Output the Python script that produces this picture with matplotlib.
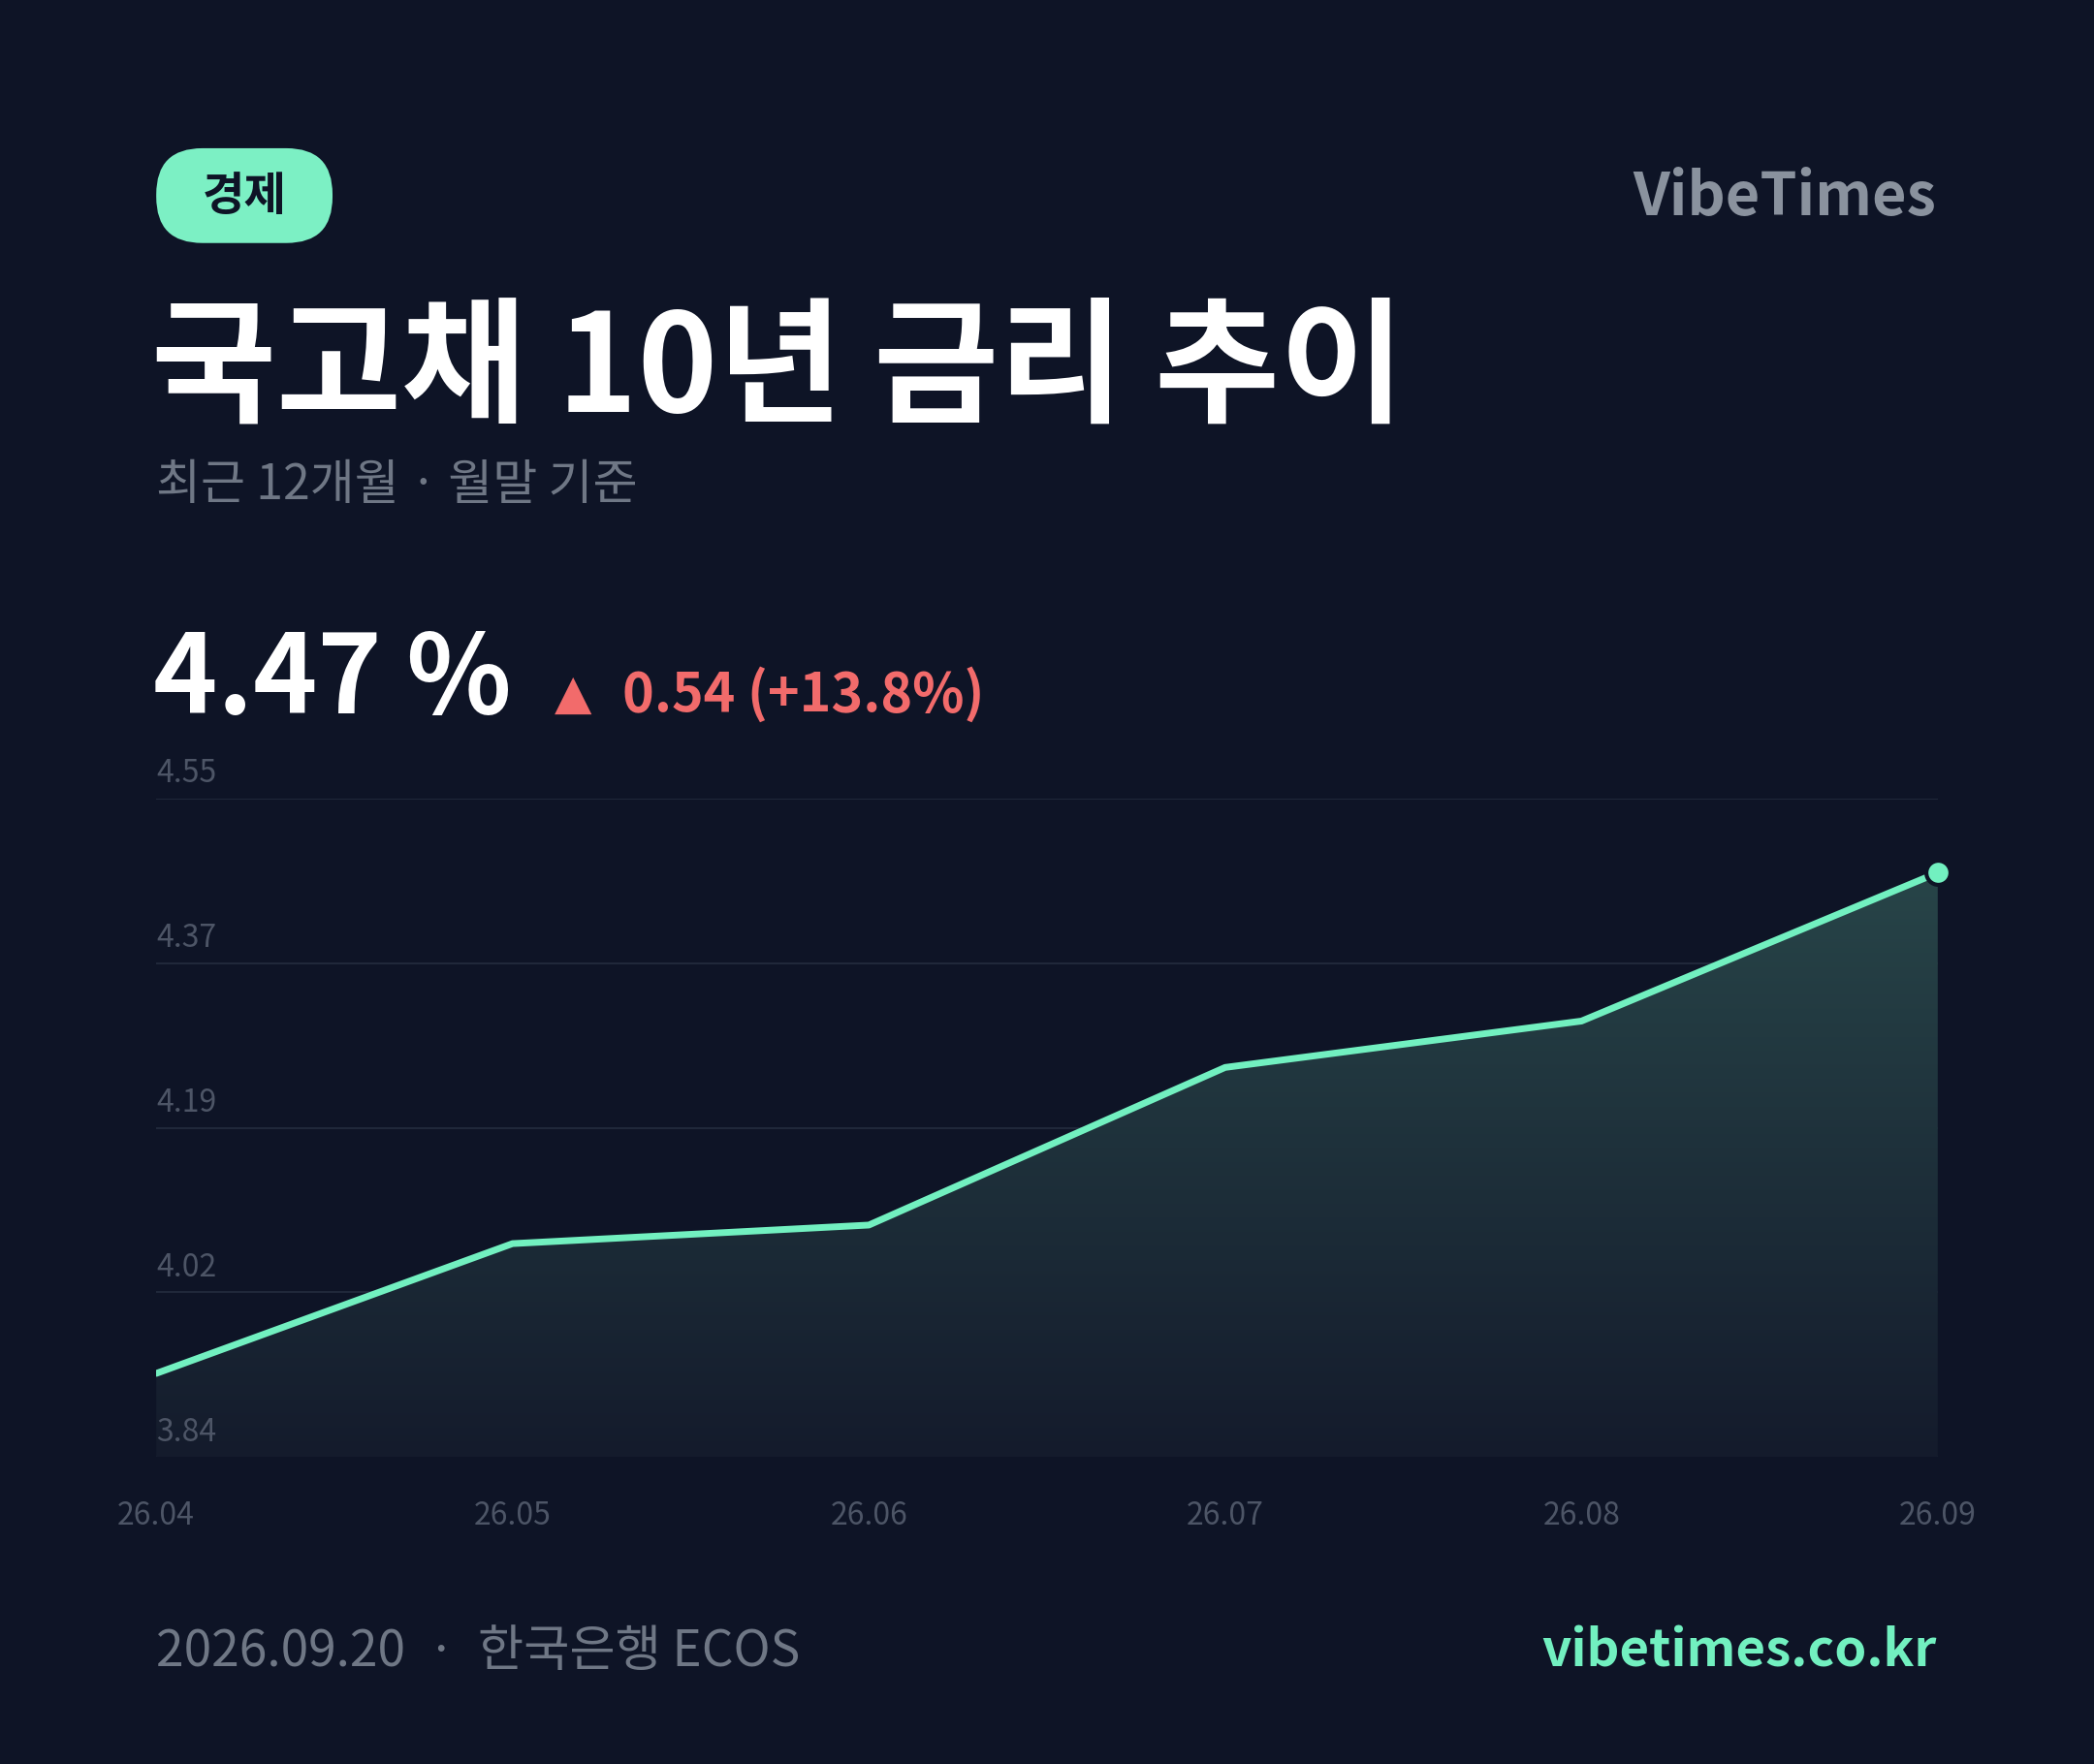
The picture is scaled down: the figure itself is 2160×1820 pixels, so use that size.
import numpy as np
import matplotlib.pyplot as plt
from matplotlib.patches import FancyBboxPatch, Polygon

plt.rcParams['font.family'] = ['Noto Sans CJK KR', 'DejaVu Sans']

months = ['26.04', '26.05', '26.06', '26.07', '26.08', '26.09']
rates = [3.93, 4.07, 4.09, 4.26, 4.31, 4.47]
ytick_vals = np.linspace(3.84, 4.55, 5)
ytick_labels = ['3.84', '4.02', '4.19', '4.37', '4.55']

BG = '#0e1426'
MINT = '#72f0c0'
W, H = 1568, 1321

fig = plt.figure(figsize=(21.6, 18.2), dpi=100, facecolor=BG)

def fx(x):
    return x / W

def fy(y):
    return 1 - y / H

# badge
badge = FancyBboxPatch((fx(117), fy(182)), fx(249) - fx(117), fy(111) - fy(182),
                       boxstyle='round,pad=0,rounding_size=0.022', transform=fig.transFigure,
                       facecolor='#7cf0c4', edgecolor='none', mutation_aspect=W / H)
fig.patches.append(badge)
fig.text(fx(183), fy(147), '경제', ha='center', va='center', fontsize=34,
         fontweight='bold', color='#0e1426')
fig.text(fx(1450), fy(148), 'VibeTimes', ha='right', va='center', fontsize=44,
         fontweight='bold', color='#8a929e')

fig.text(fx(113), fy(278), '국고채 10년 금리 추이', ha='left', va='center', fontsize=101,
         fontweight='bold', color='white')
fig.text(fx(117), fy(364), '최근 12개월 · 월말 기준', ha='left', va='center', fontsize=36,
         color='#6f7785')

fig.text(fx(115), fy(510), '4.47 %', ha='left', va='center', fontsize=81,
         fontweight='bold', color='white')
fig.text(fx(415), fy(520), '▲', ha='left', va='center', fontsize=36,
         color='#f26b6b', family=['DejaVu Sans'])
fig.text(fx(466), fy(520), '0.54 (+13.8%)', ha='left', va='center', fontsize=40,
         fontweight='bold', color='#f26b6b')

fig.text(fx(117), fy(1237), '2026.09.20  ·  한국은행 ECOS', ha='left', va='center',
         fontsize=37, color='#6f7785')
fig.text(fx(1450), fy(1237), 'vibetimes.co.kr', ha='right', va='center', fontsize=38,
         fontweight='bold', color=MINT)

# chart
ax = fig.add_axes([fx(117), fy(1091), fx(1451) - fx(117), fy(598) - fy(1091)])
ax.set_facecolor('none')
x = np.arange(len(months))
ax.set_xlim(0, len(months) - 1)
ax.set_ylim(3.84, 4.55)

for v, lab in zip(ytick_vals, ytick_labels):
    ax.axhline(v, color='#222b3d', lw=1.3, zorder=1)
    ax.text(0, v + 0.01, lab, ha='left', va='bottom', fontsize=23, color='#4d5566')

# gradient fill under the line
grad = np.linspace(0, 1, 256).reshape(-1, 1)
img = ax.imshow(grad, extent=[0, len(months) - 1, 3.84, 4.55], origin='lower',
                aspect='auto', cmap=plt.matplotlib.colors.LinearSegmentedColormap.from_list(
                    'g', ['#141b2c', '#2a4a4c']), zorder=2)
poly = Polygon(list(zip(x, rates)) + [(x[-1], 3.84), (0, 3.84)], closed=True,
               transform=ax.transData, facecolor='none', edgecolor='none')
ax.add_patch(poly)
img.set_clip_path(poly)

ax.plot(x, rates, color=MINT, lw=5, zorder=4, solid_capstyle='round')
ax.scatter([x[-1]], [rates[-1]], s=320, color=MINT, edgecolor=BG, linewidth=3,
           zorder=5, clip_on=False)

ax.set_xticks(x)
ax.set_xticklabels(months, fontsize=23, color='#4d5566')
ax.tick_params(axis='x', length=0, pad=32)
ax.set_yticks([])
for s in ax.spines.values():
    s.set_visible(False)

fig.savefig('out.png', dpi=100, facecolor=BG)
